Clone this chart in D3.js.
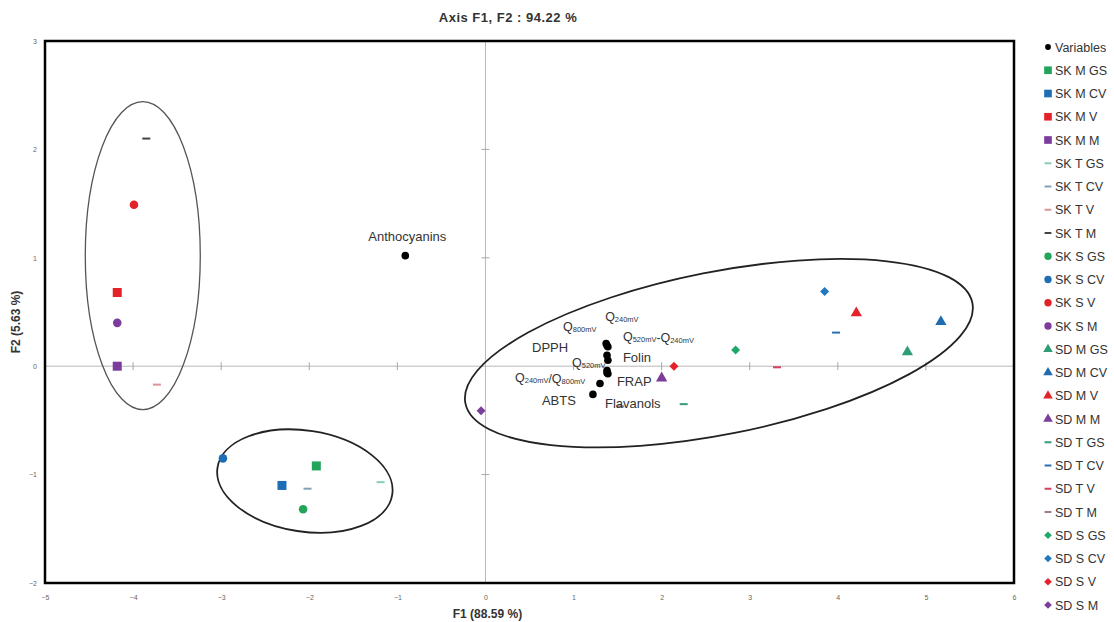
<!DOCTYPE html>
<html><head><meta charset="utf-8">
<script src="https://cdn.jsdelivr.net/npm/d3@7/dist/d3.min.js"></script>
<style>
body{margin:0;background:#fff;}
svg{display:block;font-family:"Liberation Sans",Arial,sans-serif;}
</style></head>
<body>
<svg id="chart" width="1114" height="622"></svg>
<script>
// ---------- data ----------
const xTicks = [-5,-4,-3,-2,-1,0,1,2,3,4,5,6];
const yTicks = [-2,-1,0,1,2,3];
const chartTitle = "Axis F1, F2 : 94.22 %";
const xTitle = "F1 (88.59 %)";
const yTitle = "F2 (5.63 %)";

// variables (black dots)
const varNames = ["Anthocyanins","Q240mV","Q520mV-Q240mV","Q800mV","DPPH","Folin","Q520mV","FRAP","Q240mV/Q800mV","Flavanols","ABTS"];
const varF1 = [-0.91, 1.37, 1.39, 1.38, 1.38, 1.39, 1.38, 1.39, 1.38, 1.30, 1.22];
const varF2 = [ 1.02, 0.21, 0.18, 0.19, 0.10, 0.055,-0.04,-0.07,-0.06,-0.16,-0.26];

// observations
const obsNames = ["SK M GS","SK M CV","SK M V","SK M M",
                  "SK T GS","SK T CV","SK T V","SK T M",
                  "SK S GS","SK S CV","SK S V","SK S M",
                  "SD M GS","SD M CV","SD M V","SD M M",
                  "SD T GS","SD T CV","SD T V","SD T M",
                  "SD S GS","SD S CV","SD S V","SD S M"];
const obsF1 = [-1.92,-2.31,-4.18,-4.18,
               -1.19,-2.02,-3.73,-3.85,
               -2.07,-2.98,-3.99,-4.18,
                4.79, 5.17, 4.21, 2.00,
                2.25, 3.98, 3.31, 1.53,
                2.84, 3.85, 2.14,-0.05];
const obsF2 = [-0.92,-1.10, 0.68, 0.00,
               -1.07,-1.13,-0.17, 2.10,
               -1.32,-0.85, 1.49, 0.40,
                0.13, 0.41, 0.49,-0.11,
               -0.35, 0.31,-0.01,-0.37,
                0.15, 0.69, 0.00,-0.41];

// ---------- styles ----------
const obsColors = ["#22a45a","#1f6db4","#e3222a","#7b3c9c",
                   "#86cfae","#7fa3b8","#d9959c","#444444",
                   "#22a45a","#1f6db4","#e3222a","#7b3c9c",
                   "#2e9e74","#1f6db0","#e3222a","#7b3c9c",
                   "#3a9a78","#2a6fb0","#d5405e","#a07a88",
                   "#1fa86a","#1f78c0","#e8202a","#7a3f9a"];
const obsShapes = ["square","square","square","square",
                   "dash","dash","dash","dash",
                   "circle","circle","circle","circle",
                   "triangle","triangle","triangle","triangle",
                   "dash","dash","dash","dash",
                   "diamond","diamond","diamond","diamond"];
// label offsets (px) for variable names
const labelDx = [-37, -1, 15, -44, -75, 15, -35, 9, -92, 5, -51];
const labelDy = [-15, -22, -6, -15, -3, 2, -4, 12, 9, 24, 11];
// group ellipses: centre in data units, radii (px), rotation (deg)
const ellCx = [-3.89, -2.05, 2.65];
const ellCy = [ 1.02, -1.06, 0.12];
const ellRx = [57.5, 88.4, 258.4];
const ellRy = [154, 50.5, 81.3];
const ellRot = [0, 8.8, -11.2];
const ellW = [1.3, 1.8, 1.8];

// ---------- drawing ----------
const svg = d3.select("#chart");
const L = 45, R = 1014, T = 41, B = 583;
const x = d3.scaleLinear().domain([-5,6]).range([L,R]);
const y = d3.scaleLinear().domain([-2,3]).range([B,T]);

// inner axes lines
svg.append("line").attr("x1",x(0)).attr("x2",x(0)).attr("y1",T).attr("y2",B)
  .attr("stroke","#b8b8b8").attr("stroke-width",1);
svg.append("line").attr("x1",L).attr("x2",R).attr("y1",y(0)).attr("y2",y(0))
  .attr("stroke","#b8b8b8").attr("stroke-width",1);
// inner tick marks
svg.append("g").selectAll("line").data(xTicks.filter(d=>d!==0&&d!==-5&&d!==6)).join("line")
  .attr("x1",d=>x(d)).attr("x2",d=>x(d)).attr("y1",y(0)-4).attr("y2",y(0)+4)
  .attr("stroke","#a8a8a8").attr("stroke-width",1);
svg.append("g").selectAll("line").data(yTicks.filter(d=>d!==0&&d!==-2&&d!==3)).join("line")
  .attr("x1",x(0)-4).attr("x2",x(0)+4).attr("y1",d=>y(d)).attr("y2",d=>y(d))
  .attr("stroke","#a8a8a8").attr("stroke-width",1);

// outer tick labels via axes
const gx = svg.append("g").attr("transform",`translate(0,${B+9})`)
  .call(d3.axisBottom(x).tickValues(xTicks).tickSize(0).tickFormat(d3.format("d")));
gx.select(".domain").remove();
gx.selectAll("text").attr("font-size",7).attr("fill","#666").attr("font-family","Liberation Sans, Arial");
const gy = svg.append("g").attr("transform",`translate(${L-5},0)`)
  .call(d3.axisLeft(y).tickValues(yTicks).tickSize(0).tickFormat(d3.format("d")));
gy.select(".domain").remove();
gy.selectAll("text").attr("font-size",7).attr("fill","#666").attr("font-family","Liberation Sans, Arial");

// ellipses
svg.append("g").selectAll("ellipse").data(ellCx).join("ellipse")
  .attr("transform",(d,i)=>`translate(${x(ellCx[i])},${y(ellCy[i])}) rotate(${ellRot[i]})`)
  .attr("rx",(d,i)=>ellRx[i]).attr("ry",(d,i)=>ellRy[i])
  .attr("fill","none").attr("stroke",(d,i)=>i===0?"#555":"#222").attr("stroke-width",(d,i)=>ellW[i]);

// marker drawing helper
function drawMarker(sel, shape, color, scale){
  const s = scale||1;
  if(shape==="square"){
    sel.append("rect").attr("x",-4.5*s).attr("y",-4.5*s).attr("width",9*s).attr("height",9*s).attr("fill",color);
  } else if(shape==="circle"){
    sel.append("circle").attr("r",4.3*s).attr("fill",color);
  } else if(shape==="triangle"){
    sel.append("path").attr("d",d3.symbol(d3.symbolTriangle, 55*s*s)()).attr("fill",color);
  } else if(shape==="diamond"){
    sel.append("path").attr("d",`M0,${-4.5*s}L${4.5*s},0L0,${4.5*s}L${-4.5*s},0Z`).attr("fill",color);
  } else if(shape==="dash"){
    sel.append("rect").attr("x",-4*s).attr("y",-1).attr("width",8*s).attr("height",2).attr("fill",color);
  } else if(shape==="dot"){
    sel.append("circle").attr("r",3.6*s).attr("fill",color);
  }
}

// observations
const obsIdx = d3.range(obsNames.length);
svg.append("g").selectAll("g").data(obsIdx).join("g")
  .attr("transform",i=>`translate(${x(obsF1[i])},${y(obsF2[i])})`)
  .each(function(i){ drawMarker(d3.select(this), obsShapes[i], obsColors[i]); });

// variables
const varIdx = d3.range(varNames.length);
svg.append("g").selectAll("circle").data(varIdx).join("circle")
  .attr("cx",i=>x(varF1[i])).attr("cy",i=>y(varF2[i])).attr("r",3.8).attr("fill","#000");

// variable labels (Q subscripts)
const lg = svg.append("g").attr("fill","#333");
varIdx.forEach(i=>{
  const name = varNames[i];
  const t = lg.append("text").attr("x",x(varF1[i])+labelDx[i]).attr("y",y(varF2[i])+labelDy[i]);
  if(name.startsWith("Q")){
    const parts = name.split(/([-\/])/);
    parts.forEach(p=>{
      if(p==="-"||p==="/"){
        t.append("tspan").attr("font-size",12).attr("dy",0).text(p);
      } else {
        t.append("tspan").attr("font-size",12.5).text("Q");
        t.append("tspan").attr("font-size",7.5).attr("dy",1).text(p.slice(1));
        t.append("tspan").attr("font-size",12).attr("dy",-1).text("");
      }
    });
  } else {
    t.attr("font-size",13).text(name);
  }
});

// frame
svg.append("rect").attr("x",L).attr("y",T).attr("width",R-L).attr("height",B-T)
  .attr("fill","none").attr("stroke","#000").attr("stroke-width",2.5);

// titles
svg.append("text").attr("x",508).attr("y",22).attr("text-anchor","middle")
  .attr("font-size",13).attr("letter-spacing",0.5).attr("font-weight","bold").attr("fill","#333").text(chartTitle);
svg.append("text").attr("x",x(0)+2).attr("y",618).attr("text-anchor","middle")
  .attr("font-size",12).attr("font-weight","bold").attr("fill","#333").text(xTitle);
svg.append("text").attr("transform",`translate(20,${(T+B)/2+10}) rotate(-90)`).attr("text-anchor","middle")
  .attr("font-size",12).attr("font-weight","bold").attr("fill","#333").text(yTitle);

// legend
const legNames = ["Variables"].concat(obsNames);
const legShapes = ["dot"].concat(obsShapes);
const legColors = ["#000"].concat(obsColors);
const leg = svg.append("g").attr("transform","translate(1048,47)");
const li = leg.selectAll("g").data(d3.range(legNames.length)).join("g")
  .attr("transform",i=>`translate(0,${i*23.25})`);
li.each(function(i){ drawMarker(d3.select(this), legShapes[i], legColors[i], legShapes[i]==="dot"?0.8:0.85); });
li.append("text").attr("x",7).attr("y",4.5).attr("font-size",12.5).attr("fill","#333").text(i=>legNames[i]);
</script>
</body></html>
